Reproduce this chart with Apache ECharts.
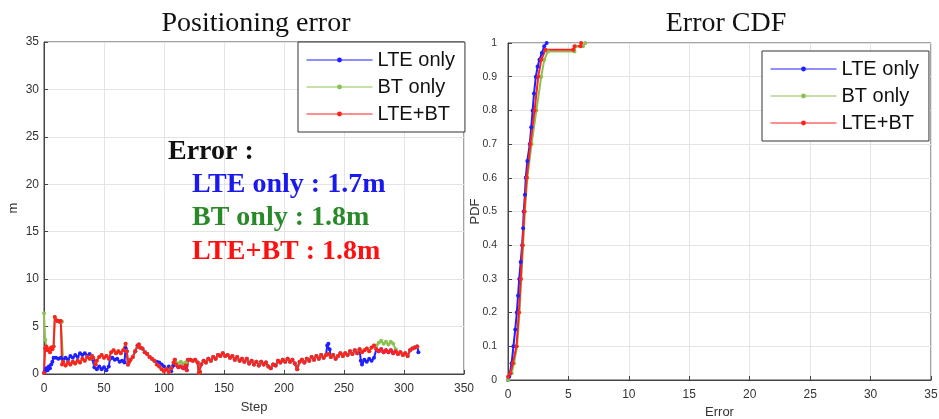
<!DOCTYPE html>
<html>
<head>
<meta charset="utf-8">
<script src="https://cdn.jsdelivr.net/npm/echarts@6/dist/echarts.min.js"></script>
<style>
  html, body { margin: 0; padding: 0; background: #fff; }
  #main { width: 939px; height: 419px; }
</style>
</head>
<body>
<div id="main"></div>
<script>
// 左圖: 每一步的定位誤差 (m), [step, error]
// LTE+BT 為主線, 其他兩條只在和它不同的區段另外列出
const lteBtErr = [
  [0, 0.1], [1, 2.7], [2, 2.9], [3, 2.5], [4, 2.6], [5, 2.3], [6, 2.8], [7, 2.6], [8, 2.9],
  [9, 6.0], [10, 5.7], [11, 5.6], [12, 5.6], [13, 5.5], [14, 5.6],
  [15, 1.0], [16, 1.3], [18, 0.9], [20, 1.2], [22, 1.0], [24, 1.3], [26, 1.1], [28, 1.4],
  [30, 1.2], [32, 1.6], [34, 1.4], [36, 1.8], [38, 1.6], [40, 1.9], [41, 1.7], [43, 1.0],
  [44, 1.4], [46, 1.8], [48, 2.0], [50, 1.7], [52, 1.9], [54, 1.6], [56, 2.3], [58, 2.5],
  [60, 2.2], [62, 2.4], [64, 2.2], [66, 2.5], [68, 3.2], [69, 2.4], [70, 1.0], [71, 1.3],
  [72, 1.5], [74, 1.8], [76, 2.4], [78, 3.0], [79, 3.1], [80, 2.8], [82, 2.7], [84, 2.3],
  [86, 2.1], [88, 1.8], [90, 1.6], [92, 1.4], [94, 1.0], [96, 0.8], [98, 0.5], [100, 0.3],
  [102, 0.5], [104, 0.2], [106, 0.6], [108, 1.2], [109, 1.5], [110, 1.0], [112, 0.7],
  [114, 0.8], [116, 0.6], [118, 0.9], [119, 0.4], [120, 1.5], [122, 1.5], [124, 1.4],
  [126, 1.5], [128, 1.2], [129, 0.1], [130, 0.2], [131, 1.0], [133, 1.4], [135, 1.2],
  [137, 1.6], [139, 1.4], [141, 1.8], [143, 1.6], [145, 2.0], [147, 1.9], [149, 2.2],
  [151, 1.9], [153, 2.0], [155, 1.7], [157, 1.9], [159, 1.5], [161, 1.8], [163, 1.4],
  [165, 1.6], [167, 1.3], [169, 1.6], [171, 1.1], [173, 1.4], [175, 1.0], [177, 1.3],
  [179, 0.9], [181, 1.3], [183, 1.0], [185, 1.2], [187, 0.8], [189, 0.6], [191, 1.0],
  [193, 0.9], [195, 1.4], [197, 1.2], [199, 1.5], [201, 1.3], [203, 1.6], [205, 1.3],
  [207, 1.5], [209, 1.1], [211, 0.5], [213, 1.3], [215, 1.5], [217, 1.2], [219, 1.6],
  [221, 1.4], [223, 1.8], [225, 1.5], [227, 1.9], [229, 1.6], [231, 2.0], [233, 1.7],
  [235, 2.0], [237, 2.1], [239, 1.8], [241, 2.0], [243, 1.6], [245, 1.9], [247, 2.2],
  [249, 1.9], [251, 2.2], [253, 2.0], [255, 2.4], [257, 2.1], [259, 2.5], [261, 2.2],
  [263, 2.6], [265, 2.3], [267, 2.5], [269, 2.7], [271, 2.4], [273, 2.8], [275, 3.0],
  [277, 2.6], [279, 2.4], [281, 2.6], [283, 2.3], [285, 2.5], [287, 2.3], [289, 2.5],
  [291, 2.2], [293, 2.4], [295, 2.1], [297, 2.3], [299, 2.0], [301, 2.2], [303, 1.9],
  [305, 2.5], [307, 2.7], [309, 2.8], [311, 2.9]
];

// LTE only 與主線不同的區段
const lteOnlySegs = [
  [[0, 0.1], [1, 0.3], [2, 0.6], [3, 0.4], [4, 0.8], [5, 0.6], [6, 1.0], [7, 1.3], [8, 1.7],
   [10, 1.7], [12, 1.6], [14, 1.7], [16, 1.5], [18, 1.7], [20, 1.5], [22, 1.9], [24, 1.7],
   [26, 2.0], [28, 1.8], [30, 2.2], [32, 2.0], [34, 2.2], [36, 1.9], [38, 2.1], [40, 1.7],
   [41, 1.5], [42, 0.7], [44, 0.5], [46, 0.8], [48, 0.5], [50, 0.7], [52, 0.4], [54, 0.8],
   [55, 1.6], [57, 1.7], [59, 1.5], [61, 1.6], [63, 1.3], [65, 1.4], [67, 1.2], [68, 2.7],
   [69, 2.4]],
  [[94, 1.3], [96, 1.2], [98, 1.0], [100, 0.8], [102, 0.5], [104, 0.8], [106, 0.3], [108, 0.9]],
  [[236, 3.0], [237, 3.2], [238, 2.6]],
  [[264, 1.4], [265, 1.0], [267, 1.5], [269, 1.3], [271, 1.6], [273, 1.4], [275, 1.7]],
  [[312, 2.3]]
];

// BT only 與主線不同的區段
const btOnlySegs = [
  [[0, 6.4], [1, 3.6], [2, 2.9]],
  [[15, 5.5]],
  [[110, 1.2], [112, 1.1], [114, 1.3], [116, 1.1], [118, 1.2], [119, 1.3]],
  [[277, 3.0], [279, 3.3], [281, 3.5], [283, 3.2], [285, 3.4], [287, 3.1], [289, 3.4],
   [291, 3.2], [293, 2.6]]
];

// 右圖: 誤差 CDF, [error, probability]
const cdfLteOnly = [
  [0, 0], [0.1, 0.01], [0.3, 0.05], [0.45, 0.1], [0.6, 0.15], [0.73, 0.2], [0.83, 0.25],
  [0.93, 0.3], [1.05, 0.35], [1.17, 0.4], [1.25, 0.45], [1.3, 0.5], [1.4, 0.55], [1.47, 0.6],
  [1.6, 0.65], [1.8, 0.7], [1.92, 0.75], [2.04, 0.8], [2.15, 0.85], [2.3, 0.9], [2.45, 0.93],
  [2.6, 0.95], [2.8, 0.97], [3.0, 0.99], [3.2, 1.0]
];
const cdfBtOnly = [
  [0, 0], [0.3, 0.02], [0.5, 0.05], [0.75, 0.1], [0.95, 0.2], [1.1, 0.3], [1.25, 0.4],
  [1.4, 0.5], [1.6, 0.6], [1.95, 0.7], [2.35, 0.8], [2.75, 0.9], [3.0, 0.95], [3.3, 0.975],
  [5.5, 0.975], [5.6, 0.99], [6.2, 0.99], [6.4, 1.0]
];
const cdfLteBt = [
  [0, 0.01], [0.2, 0.02], [0.4, 0.05], [0.7, 0.1], [0.9, 0.2], [1.05, 0.3], [1.2, 0.4],
  [1.35, 0.5], [1.55, 0.6], [1.85, 0.7], [2.2, 0.8], [2.5, 0.9], [2.75, 0.95], [3.1, 0.98],
  [5.4, 0.98], [5.5, 0.99], [6.0, 0.99], [6.05, 1.0]
];

const seriesNames = ['LTE only', 'BT only', 'LTE+BT'];
const seriesColors = ['#1f1fff', '#8cc152', '#ff2020'];
const meanErrors = ['1.7m', '1.8m', '1.8m'];
const textColors = ['#1a1aee', '#2a8a2a', '#ff1010'];

// 主線加上自己的區段 (區段內用自己的點)
function mergeSegs(base, segs) {
  let inSeg = s => segs.some(seg => s >= seg[0][0] && s <= seg[seg.length - 1][0]);
  let out = base.filter(p => !inSeg(p[0]));
  segs.forEach(seg => { out = out.concat(seg); });
  return out.sort((a, b) => a[0] - b[0]);
}

let chart = echarts.init(document.getElementById('main'));

let axisCommon = {
  axisLine: { lineStyle: { color: '#444' } },
  axisTick: { inside: true, length: 4, lineStyle: { color: '#444' } },
  axisLabel: { color: '#333', fontSize: 12, fontFamily: 'Liberation Sans' },
  splitLine: { show: true, lineStyle: { color: '#e4e4e4' } },
  nameMoveOverlap: false,
  nameTextStyle: { color: '#333', fontSize: 13, fontFamily: 'Liberation Sans' }
};

function lineSeries(name, idx, xi, data) {
  return {
    name: name,
    type: 'line',
    xAxisIndex: xi,
    yAxisIndex: xi,
    data: data,
    symbol: 'circle',
    symbolSize: 4,
    showSymbol: true,
    lineStyle: { width: 2, color: seriesColors[idx] },
    itemStyle: { color: seriesColors[idx] },
    animation: false
  };
}

let legendCommon = {
  orient: 'vertical',
  backgroundColor: '#fff',
  borderColor: '#333',
  borderWidth: 1,
  borderRadius: 0,
  padding: [8, 10, 8, 8],
  itemWidth: 66,
  itemHeight: 6,
  itemGap: 7,
  lineStyle: { width: 1 },
  textStyle: { fontSize: 20, color: '#111', fontFamily: 'Liberation Sans' },
  data: seriesNames
};

let titleStyle = { fontFamily: 'Liberation Serif', fontSize: 28, fontWeight: 'normal', color: '#111' };

let option = {
  animation: false,
  title: [
    { text: 'Positioning error', left: 251, top: 5, textAlign: 'center', textStyle: titleStyle },
    { text: 'Error CDF', left: 721, top: 5, textAlign: 'center', textStyle: titleStyle }
  ],
  legend: [
    Object.assign({}, legendCommon, { left: 298, top: 42 }),
    Object.assign({}, legendCommon, { left: 762, top: 51 })
  ],
  grid: [
    { left: 44, top: 42, width: 420, height: 332, show: true, borderColor: '#444', borderWidth: 1,
      outerBoundsMode: 'none' },
    { left: 508, top: 43, width: 423, height: 337, show: true, borderColor: '#444', borderWidth: 1,
      outerBoundsMode: 'none' }
  ],
  xAxis: [
    Object.assign({}, axisCommon, { type: 'value', gridIndex: 0, min: 0, max: 350, interval: 50,
      name: 'Step', nameLocation: 'middle', nameGap: 27,
      axisLabel: { color: '#333', fontSize: 12, fontFamily: 'Liberation Sans', margin: 9 } }),
    Object.assign({}, axisCommon, { type: 'value', gridIndex: 1, min: 0, max: 35, interval: 5,
      name: 'Error', nameLocation: 'middle', nameGap: 26,
      axisLabel: { color: '#333', fontSize: 12, fontFamily: 'Liberation Sans', margin: 9 } })
  ],
  yAxis: [
    Object.assign({}, axisCommon, { type: 'value', gridIndex: 0, min: 0, max: 35, interval: 5,
      name: 'm', nameLocation: 'middle', nameGap: 24,
      axisLabel: { color: '#333', fontSize: 12, fontFamily: 'Liberation Sans', margin: 5 } }),
    Object.assign({}, axisCommon, { type: 'value', gridIndex: 1, min: 0, max: 1, interval: 0.1,
      name: 'PDF', nameLocation: 'middle', nameGap: 26,
      axisLabel: { color: '#333', fontSize: 10.5, fontFamily: 'Liberation Sans', margin: 11 } })
  ],
  graphic: [
    { type: 'text', x: 168, y: 152, z: 100,
      style: { text: 'Error :', fill: '#111', font: 'bold 28px "Liberation Serif"', verticalAlign: 'middle' } },
    { type: 'text', x: 192, y: 185, z: 100,
      style: { text: seriesNames[0] + ' : ' + meanErrors[0], fill: textColors[0], font: 'bold 28px "Liberation Serif"', verticalAlign: 'middle' } },
    { type: 'text', x: 192, y: 218, z: 100,
      style: { text: seriesNames[1] + ' : ' + meanErrors[1], fill: textColors[1], font: 'bold 28px "Liberation Serif"', verticalAlign: 'middle' } },
    { type: 'text', x: 192, y: 252, z: 100,
      style: { text: seriesNames[2] + ' : ' + meanErrors[2], fill: textColors[2], font: 'bold 28px "Liberation Serif"', verticalAlign: 'middle' } }
  ],
  series: [
    lineSeries(seriesNames[0], 0, 0, mergeSegs(lteBtErr, lteOnlySegs)),
    lineSeries(seriesNames[1], 1, 0, mergeSegs(lteBtErr, btOnlySegs)),
    lineSeries(seriesNames[2], 2, 0, lteBtErr),
    lineSeries(seriesNames[0], 0, 1, cdfLteOnly),
    lineSeries(seriesNames[1], 1, 1, cdfBtOnly),
    lineSeries(seriesNames[2], 2, 1, cdfLteBt)
  ]
};

chart.setOption(option);
</script>
</body>
</html>
